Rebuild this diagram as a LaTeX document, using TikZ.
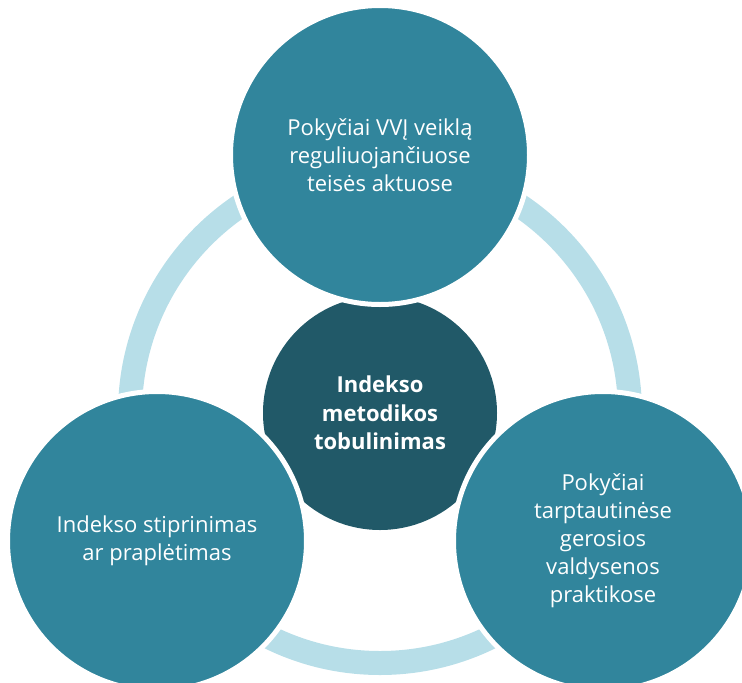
\documentclass[tikz,border=0pt]{standalone}
\usepackage{fontspec}
\setmainfont{Open Sans}
\definecolor{tealmain}{HTML}{31859C}
\definecolor{tealdark}{HTML}{215968}
\definecolor{ringblue}{HTML}{B7DEE8}
\begin{document}
\begin{tikzpicture}[x=1pt,y=-1pt,
  outercirc/.style={circle,fill=tealmain,draw=white,line width=5pt,minimum size=299pt,inner sep=0pt,
    text=white,align=center,font=\fontsize{22}{28}\selectfont},
  corecirc/.style={circle,fill=tealdark,minimum size=234pt,inner sep=0pt,
    text=white,align=center,font=\fontsize{22}{28.5}\selectfont\bfseries}]
\useasboundingbox (0,0) rectangle (742,683);
\clip (0,0) rectangle (742,683);
\draw[ringblue,line width=24pt] (380,413) circle[radius=250];
\node[corecirc] (core) at (380,413) {Indekso\\metodikos\\tobulinimas};
\node[outercirc] (top) at (380,155) {Pokyčiai VVĮ veiklą\\reguliuojančiuose\\teisės aktuose};
\node[outercirc] (left) at (157,541) {Indekso stiprinimas\\ar praplėtimas};
\node[outercirc] (right) at (603,541) {Pokyčiai\\tarptautinėse\\gerosios\\valdysenos\\praktikose};
\end{tikzpicture}
\end{document}
